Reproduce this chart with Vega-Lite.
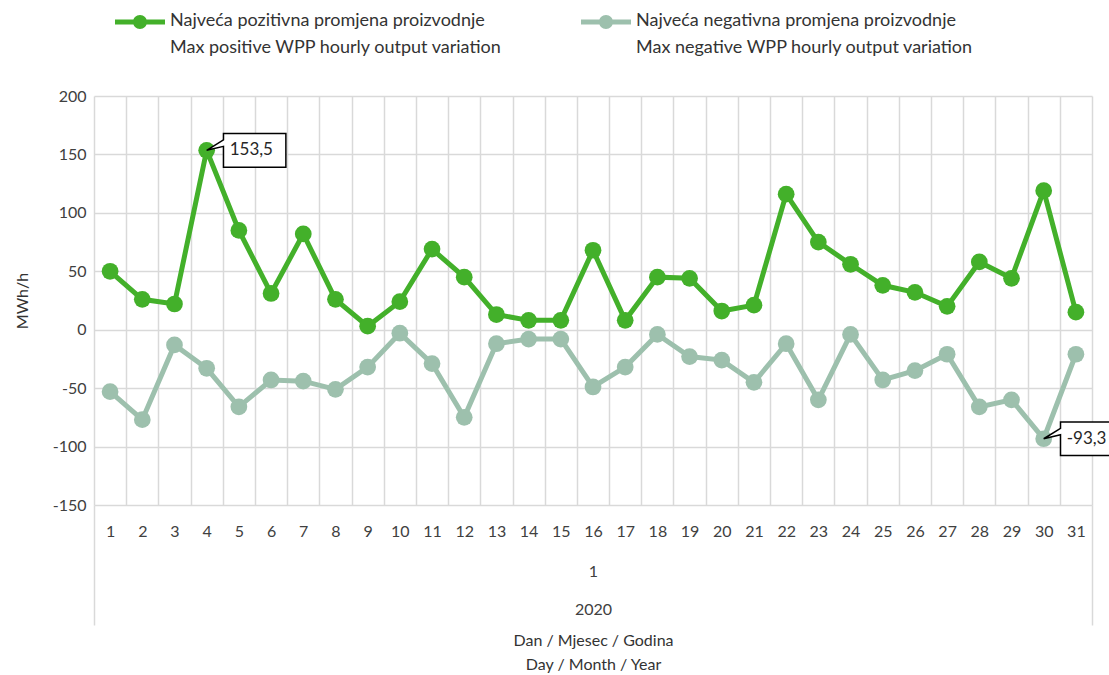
{
  "$schema": "https://vega.github.io/schema/vega-lite/v6.json",
  "width": 998,
  "height": 409,
  "autosize": {"type": "none"},
  "padding": {"left": 94, "top": 96, "right": 17, "bottom": 170},
  "background": "white",
  "config": {
    "view": {"stroke": null},
    "font": "Lato",
    "axis": {"labelFont": "Lato", "titleFont": "Lato", "labelColor": "#404040", "titleColor": "#333333", "labelFontSize": 16, "titleFontSize": 16, "titleFontWeight": "normal"},
    "legend": {"labelFont": "Lato", "labelColor": "#333333"}
  },
  "data": {
    "values": [
      {"day": 1, "series": "Najveća pozitivna promjena proizvodnje|Max positive WPP hourly output variation", "value": 50},
      {"day": 2, "series": "Najveća pozitivna promjena proizvodnje|Max positive WPP hourly output variation", "value": 26},
      {"day": 3, "series": "Najveća pozitivna promjena proizvodnje|Max positive WPP hourly output variation", "value": 22},
      {"day": 4, "series": "Najveća pozitivna promjena proizvodnje|Max positive WPP hourly output variation", "value": 153.5},
      {"day": 5, "series": "Najveća pozitivna promjena proizvodnje|Max positive WPP hourly output variation", "value": 85},
      {"day": 6, "series": "Najveća pozitivna promjena proizvodnje|Max positive WPP hourly output variation", "value": 31},
      {"day": 7, "series": "Najveća pozitivna promjena proizvodnje|Max positive WPP hourly output variation", "value": 82},
      {"day": 8, "series": "Najveća pozitivna promjena proizvodnje|Max positive WPP hourly output variation", "value": 26},
      {"day": 9, "series": "Najveća pozitivna promjena proizvodnje|Max positive WPP hourly output variation", "value": 3},
      {"day": 10, "series": "Najveća pozitivna promjena proizvodnje|Max positive WPP hourly output variation", "value": 24},
      {"day": 11, "series": "Najveća pozitivna promjena proizvodnje|Max positive WPP hourly output variation", "value": 69},
      {"day": 12, "series": "Najveća pozitivna promjena proizvodnje|Max positive WPP hourly output variation", "value": 45},
      {"day": 13, "series": "Najveća pozitivna promjena proizvodnje|Max positive WPP hourly output variation", "value": 13},
      {"day": 14, "series": "Najveća pozitivna promjena proizvodnje|Max positive WPP hourly output variation", "value": 8},
      {"day": 15, "series": "Najveća pozitivna promjena proizvodnje|Max positive WPP hourly output variation", "value": 8},
      {"day": 16, "series": "Najveća pozitivna promjena proizvodnje|Max positive WPP hourly output variation", "value": 68},
      {"day": 17, "series": "Najveća pozitivna promjena proizvodnje|Max positive WPP hourly output variation", "value": 8},
      {"day": 18, "series": "Najveća pozitivna promjena proizvodnje|Max positive WPP hourly output variation", "value": 45},
      {"day": 19, "series": "Najveća pozitivna promjena proizvodnje|Max positive WPP hourly output variation", "value": 44},
      {"day": 20, "series": "Najveća pozitivna promjena proizvodnje|Max positive WPP hourly output variation", "value": 16},
      {"day": 21, "series": "Najveća pozitivna promjena proizvodnje|Max positive WPP hourly output variation", "value": 21},
      {"day": 22, "series": "Najveća pozitivna promjena proizvodnje|Max positive WPP hourly output variation", "value": 116},
      {"day": 23, "series": "Najveća pozitivna promjena proizvodnje|Max positive WPP hourly output variation", "value": 75},
      {"day": 24, "series": "Najveća pozitivna promjena proizvodnje|Max positive WPP hourly output variation", "value": 56},
      {"day": 25, "series": "Najveća pozitivna promjena proizvodnje|Max positive WPP hourly output variation", "value": 38},
      {"day": 26, "series": "Najveća pozitivna promjena proizvodnje|Max positive WPP hourly output variation", "value": 32},
      {"day": 27, "series": "Najveća pozitivna promjena proizvodnje|Max positive WPP hourly output variation", "value": 20},
      {"day": 28, "series": "Najveća pozitivna promjena proizvodnje|Max positive WPP hourly output variation", "value": 58},
      {"day": 29, "series": "Najveća pozitivna promjena proizvodnje|Max positive WPP hourly output variation", "value": 44},
      {"day": 30, "series": "Najveća pozitivna promjena proizvodnje|Max positive WPP hourly output variation", "value": 119},
      {"day": 31, "series": "Najveća pozitivna promjena proizvodnje|Max positive WPP hourly output variation", "value": 15},
      {"day": 1, "series": "Najveća negativna promjena proizvodnje|Max negative WPP hourly output variation", "value": -53},
      {"day": 2, "series": "Najveća negativna promjena proizvodnje|Max negative WPP hourly output variation", "value": -77},
      {"day": 3, "series": "Najveća negativna promjena proizvodnje|Max negative WPP hourly output variation", "value": -13},
      {"day": 4, "series": "Najveća negativna promjena proizvodnje|Max negative WPP hourly output variation", "value": -33},
      {"day": 5, "series": "Najveća negativna promjena proizvodnje|Max negative WPP hourly output variation", "value": -66},
      {"day": 6, "series": "Najveća negativna promjena proizvodnje|Max negative WPP hourly output variation", "value": -43},
      {"day": 7, "series": "Najveća negativna promjena proizvodnje|Max negative WPP hourly output variation", "value": -44},
      {"day": 8, "series": "Najveća negativna promjena proizvodnje|Max negative WPP hourly output variation", "value": -51},
      {"day": 9, "series": "Najveća negativna promjena proizvodnje|Max negative WPP hourly output variation", "value": -32},
      {"day": 10, "series": "Najveća negativna promjena proizvodnje|Max negative WPP hourly output variation", "value": -3},
      {"day": 11, "series": "Najveća negativna promjena proizvodnje|Max negative WPP hourly output variation", "value": -29},
      {"day": 12, "series": "Najveća negativna promjena proizvodnje|Max negative WPP hourly output variation", "value": -75},
      {"day": 13, "series": "Najveća negativna promjena proizvodnje|Max negative WPP hourly output variation", "value": -12},
      {"day": 14, "series": "Najveća negativna promjena proizvodnje|Max negative WPP hourly output variation", "value": -8},
      {"day": 15, "series": "Najveća negativna promjena proizvodnje|Max negative WPP hourly output variation", "value": -8},
      {"day": 16, "series": "Najveća negativna promjena proizvodnje|Max negative WPP hourly output variation", "value": -49},
      {"day": 17, "series": "Najveća negativna promjena proizvodnje|Max negative WPP hourly output variation", "value": -32},
      {"day": 18, "series": "Najveća negativna promjena proizvodnje|Max negative WPP hourly output variation", "value": -4},
      {"day": 19, "series": "Najveća negativna promjena proizvodnje|Max negative WPP hourly output variation", "value": -23},
      {"day": 20, "series": "Najveća negativna promjena proizvodnje|Max negative WPP hourly output variation", "value": -26},
      {"day": 21, "series": "Najveća negativna promjena proizvodnje|Max negative WPP hourly output variation", "value": -45},
      {"day": 22, "series": "Najveća negativna promjena proizvodnje|Max negative WPP hourly output variation", "value": -12},
      {"day": 23, "series": "Najveća negativna promjena proizvodnje|Max negative WPP hourly output variation", "value": -60},
      {"day": 24, "series": "Najveća negativna promjena proizvodnje|Max negative WPP hourly output variation", "value": -4},
      {"day": 25, "series": "Najveća negativna promjena proizvodnje|Max negative WPP hourly output variation", "value": -43},
      {"day": 26, "series": "Najveća negativna promjena proizvodnje|Max negative WPP hourly output variation", "value": -35},
      {"day": 27, "series": "Najveća negativna promjena proizvodnje|Max negative WPP hourly output variation", "value": -21},
      {"day": 28, "series": "Najveća negativna promjena proizvodnje|Max negative WPP hourly output variation", "value": -66},
      {"day": 29, "series": "Najveća negativna promjena proizvodnje|Max negative WPP hourly output variation", "value": -60},
      {"day": 30, "series": "Najveća negativna promjena proizvodnje|Max negative WPP hourly output variation", "value": -93.3},
      {"day": 31, "series": "Najveća negativna promjena proizvodnje|Max negative WPP hourly output variation", "value": -21}
    ]
  },
  "resolve": {"axis": {"x": "independent"}},
  "encoding": {
    "y": {
      "field": "value",
      "type": "quantitative",
      "scale": {"domain": [-150, 200], "nice": false, "zero": false},
      "axis": {
        "values": [-150, -100, -50, 0, 50, 100, 150, 200],
        "labelExpr": "replace(datum.label, '−', '-')",
        "title": "MWh/h",
        "titlePadding": 22,
        "labelPadding": 8,
        "domain": false,
        "ticks": false,
        "grid": true,
        "gridColor": "#d9d9d9",
        "gridWidth": 1.5
      }
    },
    "color": {
      "field": "series",
      "type": "nominal",
      "scale": {
        "domain": ["Najveća pozitivna promjena proizvodnje|Max positive WPP hourly output variation", "Najveća negativna promjena proizvodnje|Max negative WPP hourly output variation"],
        "range": ["#43b02a", "#9dc0ad"]
      },
      "legend": {
        "orient": "none",
        "direction": "horizontal",
        "legendX": 21,
        "legendY": -99,
        "title": null,
        "labelExpr": "split(datum.label, '|')",
        "labelFontSize": 18,
        "labelLimit": 600,
        "labelBaseline": "top",
        "labelOffset": 5,
        "columnPadding": 78,
        "symbolType": "M-1,-0.1 L1,-0.1 L1,0.1 L-1,0.1 Z M0.28,0 A0.28,0.28 0 1 1 -0.28,0 A0.28,0.28 0 1 1 0.28,0 Z",
        "symbolSize": 2500,
        "symbolStrokeWidth": 0,
        "symbolOpacity": 1,
        "encode": {
          "symbols": {"update": {"fill": {"scale": "color", "field": "value"}, "fillOpacity": {"value": 1}}},
          "labels": {"update": {"lineHeight": {"value": 27}, "dy": {"value": -10}}}
        }
      }
    }
  },
  "layer": [
    {
      "mark": {"type": "line", "strokeWidth": 5},
      "encoding": {
        "x": {
          "field": "day",
          "type": "quantitative",
          "scale": {"domain": [0.5, 31.5], "nice": false, "zero": false},
          "axis": {
            "orient": "bottom",
            "values": [0.5, 1.5, 2.5, 3.5, 4.5, 5.5, 6.5, 7.5, 8.5, 9.5, 10.5, 11.5, 12.5, 13.5, 14.5, 15.5, 16.5, 17.5, 18.5, 19.5, 20.5, 21.5, 22.5, 23.5, 24.5, 25.5, 26.5, 27.5, 28.5, 29.5, 30.5, 31.5],
            "grid": true,
            "gridColor": "#d9d9d9",
            "gridWidth": 1.5,
            "labels": false,
            "domain": false,
            "ticks": true,
            "tickSize": 120,
            "tickColor": {"condition": {"test": "datum.value == 0.5 || datum.value == 31.5", "value": "#d9d9d9"}, "value": "transparent"},
            "tickWidth": 1.5,
            "title": null
          }
        }
      }
    },
    {
      "mark": {"type": "point", "filled": true, "size": 280, "opacity": 1},
      "encoding": {
        "x": {
          "field": "day",
          "type": "quantitative",
          "axis": {
            "orient": "bottom",
            "values": [1, 2, 3, 4, 5, 6, 7, 8, 9, 10, 11, 12, 13, 14, 15, 16, 17, 18, 19, 20, 21, 22, 23, 24, 25, 26, 27, 28, 29, 30, 31],
            "grid": false,
            "domain": false,
            "ticks": false,
            "labelPadding": 18,
            "labelFlush": false,
            "labelOverlap": false,
            "title": null
          }
        }
      }
    },
    {
      "transform": [{"filter": "(datum.day == 4 && datum.value > 0) || (datum.day == 30 && datum.value < 0)"}],
      "mark": {
        "type": "point",
        "shape": "M0,0 L0.42,-0.26 L0.42,-0.42 L1.98,-0.42 L1.98,0.42 L0.42,0.42 L0.42,-0.1 Z",
        "size": 6400,
        "filled": true,
        "fill": "white",
        "stroke": "black",
        "strokeWidth": 1.5,
        "opacity": 1
      },
      "encoding": {
        "color": {"value": "white"},
        "x": {
          "field": "day",
          "type": "quantitative",
          "axis": {
            "orient": "bottom",
            "values": [16],
            "labelExpr": "'1'",
            "grid": false,
            "domain": false,
            "ticks": false,
            "labelPadding": 58,
            "title": null
          }
        }
      }
    },
    {
      "transform": [
        {"filter": "(datum.day == 4 && datum.value > 0) || (datum.day == 30 && datum.value < 0)"},
        {"calculate": "replace(replace(format(datum.value, '.1f'), '.', ','), '−', '-')", "as": "label"}
      ],
      "mark": {"type": "text", "align": "left", "baseline": "middle", "dx": 23, "fontSize": 17, "font": "Lato"},
      "encoding": {
        "text": {"field": "label"},
        "color": {"value": "#262626"},
        "x": {
          "field": "day",
          "type": "quantitative",
          "axis": {
            "orient": "bottom",
            "values": [16],
            "labelExpr": "'2020'",
            "grid": false,
            "domain": false,
            "ticks": false,
            "labelPadding": 96,
            "title": ["Dan / Mjesec / Godina", "Day / Month / Year"],
            "titlePadding": 15,
            "titleLineHeight": 24
          }
        }
      }
    }
  ]
}
